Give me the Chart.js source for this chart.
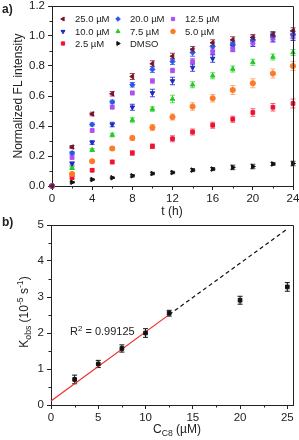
<!DOCTYPE html>
<html><head><meta charset="utf-8">
<script src="https://cdn.jsdelivr.net/npm/chart.js@4"></script>
<style>
html,body{margin:0;padding:0;background:#fff;}
#wrap{position:relative;width:299px;height:440px;overflow:hidden;font-family:"Liberation Sans",Arial,sans-serif;color:#222;}
canvas{position:absolute;left:0;}
.t{position:absolute;white-space:nowrap;font-size:12px;line-height:1;}
.c{transform:translate(-50%,-50%);}
.r{transform:translate(-50%,-50%) rotate(-90deg);}
sub{font-size:0.72em;vertical-align:-0.35em;line-height:0;}
sup{font-size:0.72em;vertical-align:0.55em;line-height:0;}
</style></head><body>
<div id="wrap">
<canvas id="c1" width="299" height="215" style="top:0"></canvas>
<canvas id="c2" width="299" height="225" style="top:215px"></canvas>
<div class="t" style="left:2px;top:3px;font-weight:bold;">a)</div>
<div class="t" style="left:2px;top:216px;font-weight:bold;">b)</div>
<div class="t r" style="left:18px;top:96px;">Normalized FL intensity</div>
<div class="t c" style="left:172px;top:211px;">t (h)</div>
<div class="t r" style="left:24px;top:312px;">K<sub>obs</sub> (10<sup>-5</sup> s<sup>-1</sup>)</div>
<div class="t c" style="left:177px;top:429px;">C<sub>C8</sub> (µM)</div>
<div class="t" style="left:70px;top:326px;font-size:11px;">R<sup>2</sup> = 0.99125</div>
</div>
<script>
// ---- data: panel a ----
const times = [0, 2, 4, 6, 8, 10, 12, 14, 16, 18, 20, 22, 24];
const seriesLabels = ['25.0 µM', '20.0 µM', '12.5 µM', '10.0 µM', '7.5 µM', '5.0 µM', '2.5 µM', 'DMSO'];
const c25  = [0, 0.26, 0.48, 0.615, 0.73, 0.815, 0.865, 0.91, 0.955, 0.975, 0.99, 1.01, 1.035];
const c20  = [0, 0.22, 0.41, 0.56, 0.675, 0.777, 0.83, 0.89, 0.93, 0.945, 0.975, 1.0, 1.01];
const c125 = [0, 0.19, 0.37, 0.525, 0.62, 0.70, 0.77, 0.83, 0.895, 0.915, 0.955, 0.985, 1.0];
const c10  = [0, 0.15, 0.29, 0.41, 0.525, 0.62, 0.70, 0.79, 0.85, 0.93, 0.96, 0.99, 1.0];
const c75  = [0, 0.12, 0.24, 0.34, 0.44, 0.513, 0.58, 0.675, 0.735, 0.78, 0.825, 0.86, 0.89];
const c5   = [0, 0.08, 0.165, 0.25, 0.32, 0.39, 0.46, 0.53, 0.585, 0.64, 0.685, 0.75, 0.80];
const c25b = [0, 0.055, 0.105, 0.16, 0.22, 0.265, 0.315, 0.36, 0.405, 0.445, 0.49, 0.525, 0.55];
const dmso = [0, 0.025, 0.043, 0.055, 0.068, 0.083, 0.09, 0.106, 0.113, 0.124, 0.13, 0.147, 0.15];
const e25  = [0, 0.01, 0.012, 0.015, 0.02, 0.02, 0.02, 0.02, 0.02, 0.02, 0.02, 0.02, 0.02];
const e20  = [0, 0.01, 0.01, 0.012, 0.015, 0.02, 0.02, 0.025, 0.025, 0.025, 0.025, 0.025, 0.025];
const e125 = [0, 0.01, 0.01, 0.01, 0.012, 0.015, 0.015, 0.02, 0.02, 0.02, 0.02, 0.02, 0.02];
const e10  = [0, 0.01, 0.012, 0.015, 0.02, 0.025, 0.025, 0.025, 0.025, 0.03, 0.03, 0.03, 0.03];
const e75  = [0, 0.01, 0.01, 0.012, 0.015, 0.015, 0.025, 0.02, 0.02, 0.02, 0.02, 0.02, 0.02];
const e5   = [0, 0.01, 0.01, 0.012, 0.015, 0.02, 0.02, 0.025, 0.025, 0.03, 0.03, 0.03, 0.03];
const e25b = [0, 0.008, 0.01, 0.012, 0.015, 0.015, 0.02, 0.02, 0.02, 0.02, 0.025, 0.025, 0.03];
const edm  = [0, 0.005, 0.005, 0.005, 0.008, 0.008, 0.008, 0.01, 0.01, 0.015, 0.015, 0.01, 0.015];
const xTicksA = [0, 4, 8, 12, 16, 20, 24];
const yTicksA = [0.0, 0.2, 0.4, 0.6, 0.8, 1.0, 1.2];
// ---- data: panel b ----
const conc  = [2.5, 5, 7.5, 10, 12.5, 20, 25];
const kobs  = [0.71, 1.14, 1.57, 2.0, 2.55, 2.91, 3.28];
const kErr  = [0.12, 0.1, 0.1, 0.12, 0.08, 0.11, 0.12];
const fitX  = [0, 12.5];
const fitY  = [0.11, 2.51];
const extX  = [12.5, 25];
const extY  = [2.51, 4.89];
const xTicksB = [0, 5, 10, 15, 20, 25];
const yTicksB = [0, 1, 2, 3, 4, 5];

const FONT = {family: '"Liberation Sans", Arial, sans-serif', size: 11.5};
const INK = '#222';

function pts(xs, ys) { return xs.map((x, i) => ({x: x, y: ys[i]})); }

const errorBars = {
  id: 'errorBars',
  beforeDatasetsDraw(chart) {
    const ctx = chart.ctx, xs = chart.scales.x, ys = chart.scales.y;
    chart.data.datasets.forEach(ds => {
      if (!ds.errors) return;
      ctx.save();
      ctx.strokeStyle = ds.errorColor || ds.borderColor;
      ctx.lineWidth = 1;
      ds.data.forEach((p, j) => {
        const e = ds.errors[j];
        if (!e) return;
        const x = xs.getPixelForValue(p.x);
        const y1 = ys.getPixelForValue(p.y - e), y2 = ys.getPixelForValue(p.y + e);
        ctx.beginPath();
        ctx.moveTo(x, y1); ctx.lineTo(x, y2);
        ctx.moveTo(x - 2.5, y1); ctx.lineTo(x + 2.5, y1);
        ctx.moveTo(x - 2.5, y2); ctx.lineTo(x + 2.5, y2);
        ctx.stroke();
      });
      ctx.restore();
    });
  }
};

const frame = {
  id: 'frame',
  afterDraw(chart) {
    const ctx = chart.ctx, a = chart.chartArea;
    ctx.save();
    ctx.strokeStyle = INK; ctx.lineWidth = 1;
    ctx.beginPath();
    ctx.moveTo(a.left, a.top + 0.5); ctx.lineTo(a.right + 0.5, a.top + 0.5); ctx.lineTo(a.right + 0.5, a.bottom);
    ctx.stroke();
    // minor ticks
    const xs = chart.scales.x, ys = chart.scales.y;
    const xt = xs.ticks.map(t => t.value), yt = ys.ticks.map(t => t.value);
    ctx.beginPath();
    for (let i = 0; i < xt.length - 1; i++) {
      const px = Math.round(xs.getPixelForValue((xt[i] + xt[i + 1]) / 2)) + 0.5;
      ctx.moveTo(px, a.bottom); ctx.lineTo(px, a.bottom + 2.5);
    }
    for (let i = 0; i < yt.length - 1; i++) {
      const py = Math.round(ys.getPixelForValue((yt[i] + yt[i + 1]) / 2)) + 0.5;
      ctx.moveTo(a.left, py); ctx.lineTo(a.left - 2.5, py);
    }
    ctx.stroke();
    ctx.restore();
  }
};

function marker(ctx, style, rot, x, y, r, color) {
  ctx.save();
  ctx.fillStyle = color; ctx.strokeStyle = color; ctx.lineWidth = 1;
  if (Chart.helpers && Chart.helpers.drawPoint) {
    Chart.helpers.drawPoint(ctx, {pointStyle: style, radius: r, rotation: rot, borderWidth: 1}, x, y);
  } else {
    ctx.beginPath(); ctx.arc(x, y, r, 0, Math.PI * 2); ctx.fill();
  }
  ctx.restore();
}

const legendA = {
  id: 'legendA',
  afterDraw(chart) {
    const ctx = chart.ctx;
    const mx = [63, 118, 173], tx = [75, 130, 185], ry = [19, 31.5, 43.5];
    chart.data.datasets.forEach((ds, i) => {
      const c = i % 3, r = Math.floor(i / 3);
      marker(ctx, ds.pointStyle, ds.pointRotation || 0, mx[c], ry[r], 2.3, ds.backgroundColor);
      ctx.save();
      ctx.fillStyle = INK;
      ctx.font = '9.5px "Liberation Sans", Arial, sans-serif';
      ctx.textBaseline = 'middle';
      ctx.fillText(ds.label, tx[c], ry[r] + 0.5);
      ctx.restore();
    });
  }
};

function series(label, ys, errs, color, style, rot, errColor) {
  return {
    label: label, data: pts(times, ys), errors: errs,
    backgroundColor: color, borderColor: color, errorColor: errColor,
    pointStyle: style, pointRotation: rot, pointRadius: 2.6, pointBorderWidth: 1,
    showLine: false, clip: false
  };
}

function axis(min, max, tickList, size, isX, fmt) {
  return {
    type: 'linear', min: min, max: max,
    afterBuildTicks(s) { s.ticks = tickList.map(v => ({value: v})); },
    afterFit(s) {
      if (isX) s.height = size; else s.width = size;
      s.paddingLeft = 0; s.paddingRight = 0; s.paddingTop = 0; s.paddingBottom = 0;
    },
    ticks: {font: FONT, color: INK, padding: isX ? 2 : 3, maxRotation: 0, autoSkip: false,
            callback: fmt},
    grid: {drawOnChartArea: false, drawTicks: true, tickLength: 4, color: INK, tickWidth: 1},
    border: {display: true, color: INK, width: 1}
  };
}

new Chart(document.getElementById('c1'), {
  type: 'scatter',
  data: {datasets: [
    series(seriesLabels[0], c25, e25, '#7a1426', 'triangle', -90, 'rgba(122,20,38,0.75)'),
    series(seriesLabels[1], c20, e20, '#2b55e8', 'rectRot', 0, 'rgba(43,85,232,0.8)'),
    series(seriesLabels[2], c125, e125, '#b04ff0', 'rect', 0, 'rgba(176,79,240,0.7)'),
    series(seriesLabels[3], c10, e10, '#1c28c8', 'triangle', 180, 'rgba(28,40,200,0.85)'),
    series(seriesLabels[4], c75, e75, '#22cc22', 'triangle', 0, 'rgba(34,204,34,0.7)'),
    series(seriesLabels[5], c5, e5, '#ff7a28', 'circle', 0, 'rgba(255,122,40,0.6)'),
    series(seriesLabels[6], c25b, e25b, '#f01030', 'rect', 0, 'rgba(240,16,48,0.65)'),
    series(seriesLabels[7], dmso, edm, '#111111', 'triangle', 90, 'rgba(17,17,17,0.8)')
  ]},
  options: {
    responsive: false, animation: false, devicePixelRatio: 1,
    layout: {padding: {left: 0, right: 6, top: 6, bottom: 0}},
    plugins: {legend: {display: false}, tooltip: {enabled: false}},
    scales: {
      x: axis(0, 24, xTicksA, 29, true, v => String(v)),
      y: axis(0, 1.2, yTicksA, 52, false, v => v.toFixed(1))
    }
  },
  plugins: [errorBars, frame, legendA]
});

new Chart(document.getElementById('c2'), {
  type: 'scatter',
  data: {datasets: [
    {label: 'kobs', data: pts(conc, kobs), errors: kErr, backgroundColor: '#111', borderColor: '#111',
     pointStyle: 'rect', pointRadius: 2.6, showLine: false, clip: false},
    {label: 'fit', data: pts(fitX, fitY), borderColor: '#f02828', borderWidth: 1.2,
     pointRadius: 0, showLine: true, clip: false},
    {label: 'ext', data: pts(extX, extY), borderColor: '#111', borderWidth: 1.2, borderDash: [4, 3],
     pointRadius: 0, showLine: true, clip: false}
  ]},
  options: {
    responsive: false, animation: false, devicePixelRatio: 1,
    layout: {padding: {left: 0, right: 6, top: 10, bottom: 0}},
    plugins: {legend: {display: false}, tooltip: {enabled: false}},
    scales: {
      x: axis(0, 25.6, xTicksB, 35, true, v => String(v)),
      y: axis(0, 5, yTicksB, 51, false, v => String(v))
    }
  },
  plugins: [errorBars, frame]
});
</script>
</body></html>
